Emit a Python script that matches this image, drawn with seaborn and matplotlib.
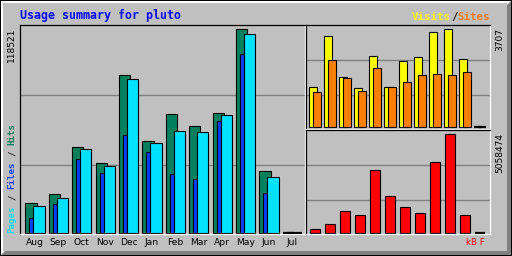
import numpy as np
import matplotlib
matplotlib.use("Agg")
import matplotlib.pyplot as plt
from matplotlib.patches import Rectangle, Polygon
import seaborn as sns

# ---------------- data ----------------
months = ["Aug", "Sep", "Oct", "Nov", "Dec", "Jan", "Feb", "Mar", "Apr", "May", "Jun", "Jul"]
hits = [17700, 22900, 50300, 41000, 91700, 53800, 69000, 62000, 70100, 118521, 36300, 0]
pages = [15900, 20600, 48600, 39200, 89400, 52100, 59100, 58500, 68400, 115600, 32800, 0]
files = [8900, 17100, 43300, 35200, 57300, 47400, 34600, 31700, 64900, 103900, 23500, 0]
visits = [1513, 3455, 1891, 1475, 2686, 1513, 2497, 2648, 3594, 3707, 2572, 0]
sites = [1324, 2534, 1854, 1374, 2232, 1513, 1702, 1967, 2005, 1967, 2080, 0]
kbytes = [171000, 446000, 1097000, 892000, 3206000, 1869000, 1303000, 995000, 3618000, 5058474, 892000, 0]

C_HIT, C_FILE, C_PAGE = "#00805C", "#0040FF", "#00E0FF"
C_VISIT, C_SITE, C_KB = "#FFFF00", "#FF8000", "#FF0000"
BG = "#C0C0C0"

W, H = 512, 256
fig = plt.figure(figsize=(W / 100, H / 100), dpi=100)
fig.patch.set_facecolor(BG)


def fx(px):
    return px / W


def fy(py):
    return 1 - py / H


def frect(x0, y0, x1, y1, color, z=0):
    fig.add_artist(Rectangle((fx(x0), fy(y1)), (x1 - x0) / W, (y1 - y0) / H,
                             transform=fig.transFigure, facecolor=color,
                             edgecolor="none", lw=0, zorder=z))


def fpoly(pts, color, z=0):
    fig.add_artist(Polygon([(fx(a), fy(b)) for a, b in pts], closed=True,
                           transform=fig.transFigure, facecolor=color,
                           edgecolor="none", lw=0, zorder=z))


# outer frame with bevel
frect(0, 0, W, H, "black", z=-10)
frect(1, 1, W - 1, H - 1, "white", z=-9)
fpoly([(W - 1, 1), (W - 1, H - 1), (1, H - 1), (5, H - 5), (W - 5, H - 5), (W - 5, 5)], "#808080", z=-8)
frect(3, 3, W - 5, H - 5, BG, z=-7)


def make_ax(l, t, r, b):
    ax = fig.add_axes([fx(l), fy(b), (r - l) / W, (b - t) / H])
    ax.set_facecolor(BG)
    for s in ("left", "top"):
        ax.spines[s].set_color("black")
    for s in ("right", "bottom"):
        ax.spines[s].set_color("white")
    for s in ax.spines.values():
        s.set_linewidth(0.9)
    return ax, (t, b)


def bars(ax, vals, offset, width, color):
    x = np.arange(len(vals)) + offset
    n0 = len(ax.patches)
    sns.barplot(x=x, y=vals, native_scale=True, orient="x", width=width,
                color=color, saturation=1, edgecolor="black", linewidth=0.8,
                errorbar=None, ax=ax)
    for p in ax.patches[n0:]:
        if p.get_height() == 0:
            p.set_linewidth(1.6)
            p.set_zorder(3)


def finish(ax, tb, ylo, yhi, grid_px, xlim, labels=False):
    t, b = tb
    ax.set_xlim(*xlim)
    ax.set_ylim(ylo, yhi)
    gv = [ylo + (b - py) / (b - t) * (yhi - ylo) for py in grid_px]
    ax.set_yticks(gv)
    ax.yaxis.grid(True, color="#808080", linewidth=1.0)
    ax.set_axisbelow(True)
    ax.tick_params(axis="y", left=False, labelleft=False)
    ax.set_xticks(range(len(months)))
    if labels:
        ax.set_xticklabels(months, fontsize=6.6, family="DejaVu Sans")
    else:
        ax.set_xticklabels([])
    ax.tick_params(axis="x", length=0, pad=3.2)
    ax.set_xlabel("")
    ax.set_ylabel("")


# main panel: hits / pages / files
ax1, tb1 = make_ax(20, 25, 305, 234)
bars(ax1, hits, -0.171, 0.483, C_HIT)
bars(ax1, files, -0.158, 0.171, C_FILE)
bars(ax1, pages, 0.171, 0.483, C_PAGE)
m1 = max(hits)
finish(ax1, tb1, -m1 / 203.7, m1 * 208 / 203.7, [95.3, 165.3],
       ((20 - 35) / 23.4, (305 - 35) / 23.4), labels=True)

# top right: visits / sites
ax2, tb2 = make_ax(306, 25, 490, 129)
bars(ax2, visits, -0.133, 0.49, C_VISIT)
bars(ax2, sites, 0.133, 0.49, C_SITE)
m2 = max(visits)
finish(ax2, tb2, -m2 * 1.7 / 98, m2 * 102.3 / 98, [60.3, 95.3],
       ((306 - 315) / 15, (490 - 315) / 15))

# bottom right: kbytes
ax3, tb3 = make_ax(306, 130, 490, 234)
bars(ax3, kbytes, 0.0, 0.62, C_KB)
m3 = max(kbytes)
finish(ax3, tb3, -m3 * 1.3 / 98.4, m3 * 102.7 / 98.4, [165.3, 200.3],
       ((306 - 315) / 15, (490 - 315) / 15))

# ---------------- texts ----------------
mono = "DejaVu Sans Mono"
fig.text(fx(20), fy(18.5), "Usage summary for pluto", color="#0000FF",
         family=mono, weight="bold", fontsize=8.4, va="baseline", ha="left")


def multicolor(x, y, parts, size, rotation=0, **kw):
    step = 0.602 * size * 100 / 72  # monospace advance in px
    k = 0
    for txt, col in parts:
        s = txt.strip()
        lead = len(txt) - len(txt.lstrip())
        pos = k + lead
        if rotation:
            px, py = x, y - pos * step
        else:
            px, py = x + pos * step, y
        fig.text(fx(px), fy(py), s, color=col, rotation=rotation,
                 rotation_mode="anchor", ha="left", fontsize=size, **kw)
        k += len(txt)


multicolor(412, 20, [("Visits", C_VISIT), ("/", "#202020"), ("Sites", C_SITE)], 7.8,
           family=mono, weight="bold", va="baseline")
multicolor(12, 233, [("Pages", C_PAGE), (" / ", "#202020"), ("Files", C_FILE),
                     (" / ", "#202020"), ("Hits", C_HIT)], 6.6,
           rotation=90, family=mono, weight="bold", va="center")

num_kw = dict(rotation=90, ha="center", va="top", fontsize=6.5, family="DejaVu Sans", color="black")
fig.text(fx(11.5), fy(28), str(max(hits)), **num_kw)
fig.text(fx(500), fy(28), str(max(visits)), **num_kw)
fig.text(fx(500), fy(133), str(max(kbytes)), **num_kw)

fig.text(fx(466), fy(242.5), "kB F", color=C_KB, fontsize=6.2,
         family="DejaVu Sans", ha="left", va="center")

fig.savefig("out.png", dpi=100, facecolor=BG)
